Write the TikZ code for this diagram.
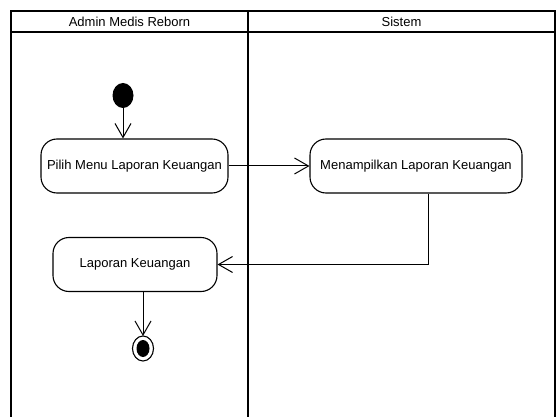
\documentclass[tikz,border=0pt]{standalone}
\usepackage{fontspec}
\setmainfont{Liberation Sans}
\usetikzlibrary{arrows.meta}
\begin{document}
\begin{tikzpicture}[x=1pt,y=-1pt,
  action/.style={draw,line width=1.1pt,rounded corners=16pt,minimum height=54pt,
    inner sep=2pt,font=\fontsize{13}{15}\selectfont},
  flow/.style={line width=1pt,-{Straight Barb[length=14pt,width=16pt,line width=1pt]}},
  lane/.style={line width=2.4pt},
  head/.style={font=\fontsize{13}{15}\selectfont}]
\useasboundingbox (0,0) rectangle (557,417);
% swimlane frame
\draw[line width=1.6pt] (11,417) -- (11,11) -- (555,11) -- (555,417);
\draw[lane] (11,32) -- (555,32);
\draw[lane] (248,11) -- (248,417);
\node[head] (laneA) at (129.5,21.5) {Admin Medis Reborn};
\node[head] (laneB) at (401.5,21.5) {Sistem};
% activities
\fill (123,95.5) ellipse (10.5pt and 12.5pt);
\coordinate (startc) at (123,108);
\node[action,minimum width=187pt] (pilih) at (134.5,166) {Pilih Menu Laporan Keuangan};
\node[action,minimum width=212pt] (tampil) at (416,166) {Menampilkan Laporan Keuangan};
\node[action,minimum width=164pt] (lapor) at (135,264.5) {Laporan Keuangan};
\draw[line width=1.1pt] (143,348.5) ellipse (10.5pt and 12.5pt);
\fill (143,348.5) ellipse (6.5pt and 8.5pt);
\coordinate (endc) at (143,336);
% transitions
\draw[flow] (startc) -- (startc |- pilih.north);
\draw[flow] (pilih.east) -- (tampil.west);
\draw[flow] (tampil.south -| 428,0) |- (lapor.east);
\draw[flow] (lapor.south -| endc) -- (endc);
\end{tikzpicture}
\end{document}
